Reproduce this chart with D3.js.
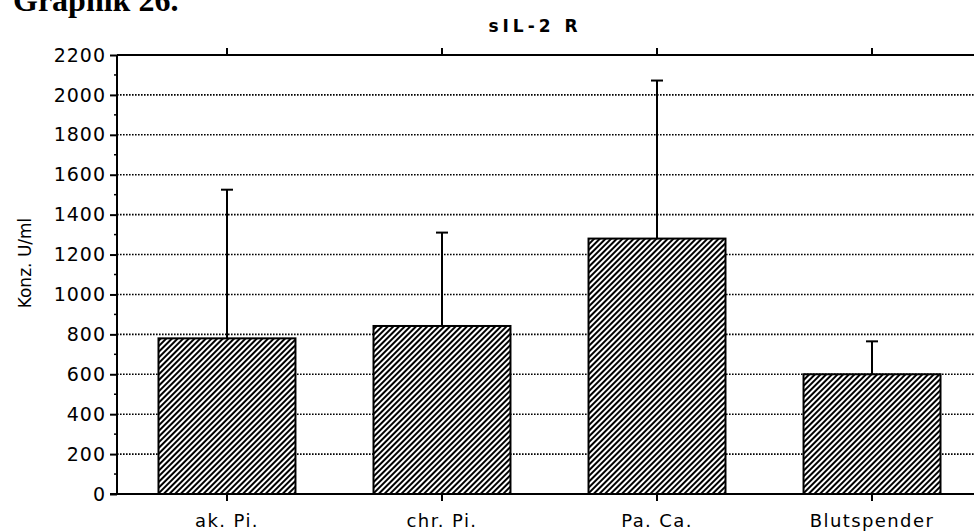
<!DOCTYPE html>
<html>
<head>
<meta charset="utf-8">
<script src="https://cdn.jsdelivr.net/npm/d3@7"></script>
<style>
  html, body { margin: 0; padding: 0; background: #fff; }
  svg { display: block; }
</style>
</head>
<body>
<svg id="chart" width="974" height="532"></svg>
<script>
// sIL-2 R concentration per group: mean and standard deviation (U/ml)
const categories = ["ak. Pi.", "chr. Pi.", "Pa. Ca.", "Blutspender"];
const means = [780, 842, 1280, 600];
const sds = [745, 468, 792, 165];
const yTicks = [0, 200, 400, 600, 800, 1000, 1200, 1400, 1600, 1800, 2000, 2200];
const yMinorTicks = d3.range(100, 2200, 200);

const data = categories.map((c, i) => ({ cat: c, mean: means[i], sd: sds[i] }));

const svg = d3.select("#chart");
const plotLeft = 117, plotRight = 982, plotTop = 55, plotBottom = 494;

const x = d3.scaleBand().domain(categories).range([plotLeft, plotRight])
  .paddingInner(0.363).paddingOuter(0.193);
const y = d3.scaleLinear().domain([0, 2200]).range([plotBottom, plotTop]);

// diagonal hatch fill for the bars
const defs = svg.append("defs");
defs.append("pattern")
  .attr("id", "hatch")
  .attr("patternUnits", "userSpaceOnUse")
  .attr("width", 4).attr("height", 4)
  .attr("patternTransform", "rotate(45)")
  .append("rect")
  .attr("x", 0).attr("y", 0).attr("width", 2).attr("height", 4)
  .attr("fill", "#000");

// page heading
svg.append("text")
  .attr("x", 13).attr("y", 11)
  .attr("font-family", "Liberation Serif, serif")
  .attr("font-weight", "bold")
  .attr("font-size", 32)
  .text("Graphik 26.");

// chart title
svg.append("text")
  .attr("x", 535).attr("y", 32)
  .attr("text-anchor", "middle")
  .attr("font-family", "DejaVu Sans, sans-serif")
  .attr("font-weight", "bold")
  .attr("font-size", 17)
  .attr("letter-spacing", 4)
  .text("sIL-2 R");

// dotted horizontal gridlines
svg.append("g")
  .selectAll("line")
  .data(yTicks.filter(t => t > 0 && t < 2200))
  .join("line")
  .attr("x1", plotLeft).attr("x2", plotRight)
  .attr("y1", d => y(d)).attr("y2", d => y(d))
  .attr("stroke", "#000")
  .attr("stroke-width", 1.6)
  .attr("stroke-dasharray", "1.6,1.4");

// bars: white base, then hatch with outline
svg.append("g")
  .selectAll("rect")
  .data(data)
  .join("rect")
  .attr("x", d => x(d.cat))
  .attr("y", d => y(d.mean))
  .attr("width", x.bandwidth())
  .attr("height", d => y(0) - y(d.mean))
  .attr("fill", "#fff");
svg.append("g")
  .selectAll("rect")
  .data(data)
  .join("rect")
  .attr("x", d => x(d.cat))
  .attr("y", d => y(d.mean))
  .attr("width", x.bandwidth())
  .attr("height", d => y(0) - y(d.mean))
  .attr("fill", "url(#hatch)")
  .attr("stroke", "#000")
  .attr("stroke-width", 2);

// error bars (mean + SD)
const err = svg.append("g").attr("stroke", "#000");
err.selectAll("line.stem")
  .data(data)
  .join("line")
  .attr("class", "stem")
  .attr("x1", d => x(d.cat) + x.bandwidth() / 2)
  .attr("x2", d => x(d.cat) + x.bandwidth() / 2)
  .attr("y1", d => y(d.mean))
  .attr("y2", d => y(d.mean + d.sd))
  .attr("stroke-width", 2);
err.selectAll("line.cap")
  .data(data)
  .join("line")
  .attr("class", "cap")
  .attr("x1", d => x(d.cat) + x.bandwidth() / 2 - 6)
  .attr("x2", d => x(d.cat) + x.bandwidth() / 2 + 6)
  .attr("y1", d => y(d.mean + d.sd))
  .attr("y2", d => y(d.mean + d.sd))
  .attr("stroke-width", 2);

// frame: top, left and bottom lines
const frame = svg.append("g").attr("stroke", "#000").attr("stroke-width", 2);
frame.append("line").attr("x1", plotLeft).attr("x2", plotRight).attr("y1", plotTop).attr("y2", plotTop);
frame.append("line").attr("x1", plotLeft).attr("x2", plotLeft).attr("y1", plotTop).attr("y2", plotBottom);
frame.append("line").attr("x1", plotLeft - 7).attr("x2", plotRight).attr("y1", plotBottom).attr("y2", plotBottom);

// left value axis
const yAxis = d3.axisLeft(y).tickValues(yTicks).tickSize(7).tickPadding(4)
  .tickFormat(d3.format("d"));
const gy = svg.append("g").attr("transform", `translate(${plotLeft},0)`).call(yAxis);
gy.select(".domain").remove();
gy.selectAll(".tick line").attr("stroke-width", 2);
gy.selectAll(".tick text")
  .attr("font-family", "DejaVu Sans, sans-serif")
  .attr("font-size", 19)
  .attr("letter-spacing", 1)
  .attr("fill", "#000");

// minor ticks on the value axis
svg.append("g")
  .selectAll("line")
  .data(yMinorTicks)
  .join("line")
  .attr("x1", plotLeft - 3).attr("x2", plotLeft)
  .attr("y1", d => y(d)).attr("y2", d => y(d))
  .attr("stroke", "#000").attr("stroke-width", 1.5);

// bottom category axis
const xAxis = d3.axisBottom(x).tickSize(7).tickPadding(13);
const gx = svg.append("g").attr("transform", `translate(0,${plotBottom})`).call(xAxis);
gx.select(".domain").remove();
gx.selectAll(".tick line").attr("stroke-width", 2);
gx.selectAll(".tick text")
  .attr("font-family", "DejaVu Sans, sans-serif")
  .attr("font-size", 18)
  .attr("letter-spacing", 1.4)
  .attr("fill", "#000");

// top tick marks at category centers
const xTop = d3.axisTop(x).tickSize(7).tickFormat("");
const gt = svg.append("g").attr("transform", `translate(0,${plotTop})`).call(xTop);
gt.select(".domain").remove();
gt.selectAll(".tick line").attr("stroke-width", 2);

// value axis label
svg.append("text")
  .attr("transform", "translate(31,263) rotate(-90)")
  .attr("text-anchor", "middle")
  .attr("font-family", "DejaVu Sans, sans-serif")
  .attr("font-size", 17)
  .text("Konz. U/ml");
</script>
</body>
</html>
